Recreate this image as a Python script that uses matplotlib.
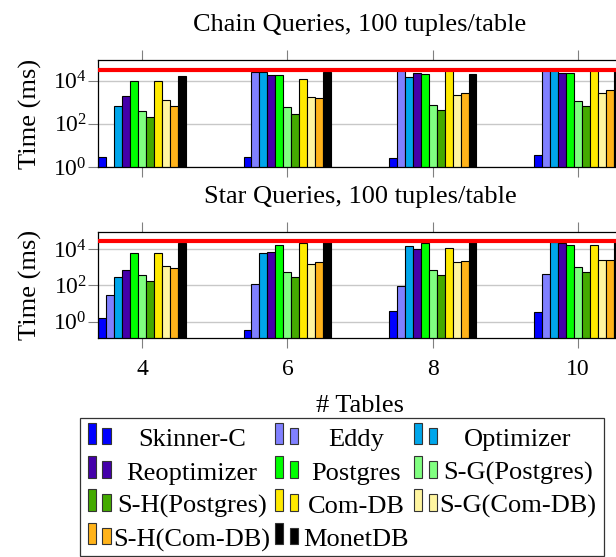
import numpy as np
import matplotlib.pyplot as plt
from matplotlib.patches import Rectangle

plt.rcParams['font.family'] = ['Liberation Serif', 'DejaVu Serif']
plt.rcParams['mathtext.fontset'] = 'custom'
plt.rcParams['mathtext.rm'] = 'Liberation Serif'
plt.rcParams['font.size'] = 17

# x positions (# tables)
tables = [4, 6, 8, 10]
timeout = 30000

systems = ["Skinner-C", "Eddy", "Optimizer", "Reoptimizer", "Postgres", "S-G(Postgres)",
           "S-H(Postgres)", "Com-DB", "S-G(Com-DB)", "S-H(Com-DB)", "MonetDB"]
colors = ["#0000FF", "#8080FF", "#00A6EB", "#4400AA", "#00FF00", "#80FF80",
          "#44AA00", "#FFEA00", "#FFF5A0", "#FFB31A", "#000000"]

# chain queries, times in ms
chain_skinner = [3.0, 3.0, 2.5, 3.5]
chain_eddy = [np.nan, 24000, 30000, 30000]
chain_optimizer = [690, 24000, 15000, 30000]
chain_reopt = [1990, 18000, 23000, 23000]
chain_postgres = [9600, 18000, 20700, 23000]
chain_sg_pg = [380, 575, 740, 1080]
chain_sh_pg = [200, 286, 435, 670]
chain_comdb = [9600, 12200, 30000, 30000]
chain_sg_com = [1250, 1780, 2130, 2800]
chain_sh_com = [690, 1550, 2630, 3700]
chain_monet = [16300, 25000, 19400, 30000]

# star queries, times in ms
star_skinner = [1.5, 0.35, 3.9, 3.3]
star_eddy = [28, 115, 96, 410]
star_optimizer = [300, 6300, 14800, 25000]
star_reopt = [705, 6800, 11000, 21000]
star_postgres = [6600, 18300, 21000, 18300]
star_sg_pg = [360, 545, 700, 1070]
star_sh_pg = [168, 280, 360, 530]
star_comdb = [6300, 21000, 12000, 18300]
star_sg_com = [1130, 1510, 1870, 2500]
star_sh_com = [940, 1870, 2200, 2500]
star_monet = [22000, 30000, 30000, 30000]

chain_times = [chain_skinner, chain_eddy, chain_optimizer, chain_reopt, chain_postgres, chain_sg_pg,
               chain_sh_pg, chain_comdb, chain_sg_com, chain_sh_com, chain_monet]
star_times = [star_skinner, star_eddy, star_optimizer, star_reopt, star_postgres, star_sg_pg,
              star_sh_pg, star_comdb, star_sg_com, star_sh_com, star_monet]

W, H = 616, 557
fig = plt.figure(figsize=(W / 100, H / 100), dpi=100)
ax_chain = fig.add_axes([98 / W, 1 - 167 / H, 524 / W, 107 / H])
ax_star = fig.add_axes([98 / W, 1 - 338 / H, 524 / W, 106 / H])

width = 0.11


def draw_bars(ax, times, ymin, title, show_labels):
    x = np.array(tables, dtype=float)
    for i, vals in enumerate(times):
        ax.bar(x + (i - 5) * width, vals, width, color=colors[i], edgecolor='black',
               linewidth=0.8, zorder=2)
    ax.axhline(timeout, color='red', lw=3, zorder=5)
    ax.set_yscale('log')
    ax.set_ylim(ymin, 9e4)
    ax.set_xlim(3.39, 10.61)
    ax.set_yticks([1, 100, 1e4])
    ax.minorticks_off()
    ax.set_xticks(tables)
    ax.yaxis.grid(True, color='#c8c8c8', lw=1)
    ax.set_axisbelow(True)
    ax.tick_params(axis='x', direction='out', length=7, color='gray', top=True, bottom=True,
                   labelbottom=show_labels, pad=8)
    ax.tick_params(axis='y', direction='out', length=7, color='gray', pad=1)
    for s in ax.spines.values():
        s.set_linewidth(0.9)
    ax.set_ylabel("Time (ms)", labelpad=8, fontsize=19)
    ax.set_title(title, pad=21, fontsize=19)


draw_bars(ax_chain, chain_times, 1, "Chain Queries, 100 tuples/table", False)
draw_bars(ax_star, star_times, 0.125, "Star Queries, 100 tuples/table", True)
ax_star.set_xlabel("# Tables", labelpad=11, fontsize=19)

# legend drawn by hand (pgfplots style two-bar markers, centered text)
lax = fig.add_axes([0, 0, 1, 1])
lax.set_xlim(0, W)
lax.set_ylim(H, 0)
lax.axis('off')
lax.add_patch(Rectangle((79.5, 418), 524.5, 137.5, fill=False, edgecolor='#333333', lw=0.9))
handle_x = [87.5, 275, 414]
text_x = [192, 356, 518]
for k, name in enumerate(systems):
    row, col = divmod(k, 3)
    yb = 444.3 + 33.3 * row
    hx = handle_x[col]
    lax.add_patch(Rectangle((hx, yb - 21.5), 8, 21.5, facecolor=colors[k], edgecolor='#333333', lw=0.8))
    lax.add_patch(Rectangle((hx + 14.5, yb - 16.5), 8.5, 16.5, facecolor=colors[k], edgecolor='#333333', lw=0.8))
    lax.text(text_x[col], yb + 2, name, ha='center', va='baseline', fontsize=19)

plt.savefig("out.png", dpi=100)
